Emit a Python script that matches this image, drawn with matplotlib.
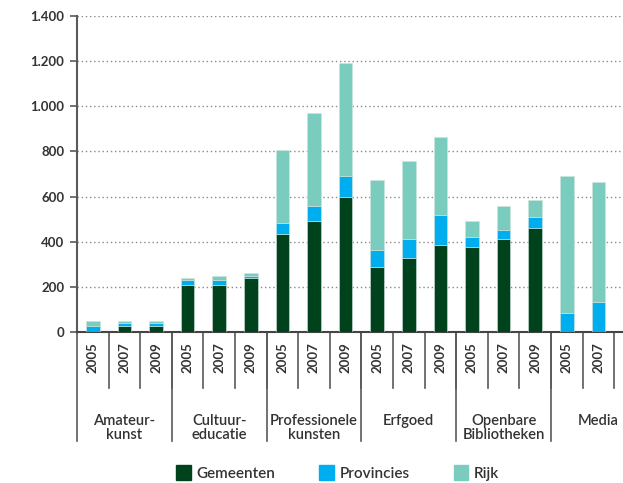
import numpy as np
import matplotlib
matplotlib.use('Agg')
import matplotlib.pyplot as plt
from matplotlib.ticker import FuncFormatter
from matplotlib.patches import Patch

plt.rcParams['font.family'] = ['Lato', 'DejaVu Sans']

# data
groups = ['Amateur-\nkunst', 'Cultuur-\neducatie', 'Professionele\nkunsten', 'Erfgoed',
          'Openbare\nBibliotheken', 'Media']
years = [['2005', '2007', '2009'], ['2005', '2007', '2009'], ['2005', '2007', '2009'],
         ['2005', '2007', '2009'], ['2005', '2007', '2009'], ['2005', '2007']]
gemeenten = [0, 28, 28, 210, 210, 240, 432, 491, 597, 288, 328, 385, 375, 412, 460, 0, 0]
provincies = [25, 10, 10, 19, 19, 10, 49, 66, 95, 77, 84, 132, 47, 39, 49, 85, 134]
rijk = [22, 10, 9, 11, 21, 10, 326, 413, 500, 308, 347, 347, 69, 106, 78, 607, 529]

c_gem = '#00421c'
c_prov = '#00aeef'
c_rijk = '#7accbf'
gray = '#5a5a5a'
txt = '#333333'

fig = plt.figure(figsize=(6.23, 4.83), dpi=100)
ax = fig.add_axes([0.1236, 0.3126, 0.8764, 0.6543])

x = np.arange(len(gemeenten))
g = np.array(gemeenten)
p = np.array(provincies)
r = np.array(rijk)
w = 0.43
ax.bar(x, g, w, color=c_gem, edgecolor='#cfe3dc', linewidth=0.4, zorder=3)
ax.bar(x, p, w, bottom=g, color=c_prov, edgecolor='#cfe3dc', linewidth=0.4, zorder=3)
ax.bar(x, r, w, bottom=g + p, color=c_rijk, edgecolor='#cfe3dc', linewidth=0.4, zorder=3)

ax.set_ylim(0, 1400)
ax.set_xlim(-0.5, len(x) - 0.5 + 0.28)
ax.set_yticks(np.arange(0, 1401, 200))
ax.yaxis.set_major_formatter(FuncFormatter(lambda v, pos: '{:,.0f}'.format(v).replace(',', '.')))
ax.tick_params(axis='y', length=5, width=1.2, color=gray, labelsize=9.5, pad=4)
for lb in ax.get_yticklabels():
    lb.set_fontweight('bold')
    lb.set_color(txt)
ax.set_xticks([])
for v in range(200, 1401, 200):
    ax.axhline(v, color='#8a8a8a', linestyle=(0, (1, 2)), linewidth=1, zorder=1)

for s in ['top', 'right']:
    ax.spines[s].set_visible(False)
ax.spines['left'].set_color(gray)
ax.spines['left'].set_linewidth(1.5)
ax.spines['bottom'].set_color('#444444')
ax.spines['bottom'].set_linewidth(1.5)

# category axis below the plot
trans = ax.get_xaxis_transform()
pos = 0
for gi, (name, yrs) in enumerate(zip(groups, years)):
    ax.plot([pos - 0.5, pos - 0.5], [0, -0.346], color=gray, lw=1.2,
            transform=trans, clip_on=False)
    for k, yr in enumerate(yrs):
        ax.text(pos + k, -0.082, yr, rotation=90, ha='center', va='center',
                fontsize=9.5, fontweight='bold', color=txt, transform=trans)
        ax.plot([pos + k + 0.5, pos + k + 0.5], [0, -0.177], color=gray, lw=1.2,
                transform=trans, clip_on=False)
    ax.text(pos + 1, -0.258, name, ha='center', va='top', fontsize=10.6,
            fontweight='semibold', color=txt, linespacing=1.02, transform=trans)
    pos += len(yrs)

handles = [Patch(color=c_gem, label='Gemeenten'),
           Patch(color=c_prov, label='Provincies'),
           Patch(color=c_rijk, label='Rijk')]
leg = fig.legend(handles=handles, loc='center', bbox_to_anchor=(0.542, 0.021),
                 ncol=3, frameon=False, fontsize=11, handlelength=0.95, handleheight=1.15,
                 columnspacing=2.9, handletextpad=0.35, borderpad=0, borderaxespad=0,
                 prop={'size': 11, 'weight': 'semibold'})
for t in leg.get_texts():
    t.set_color(txt)

fig.savefig('out.png', dpi=100)
